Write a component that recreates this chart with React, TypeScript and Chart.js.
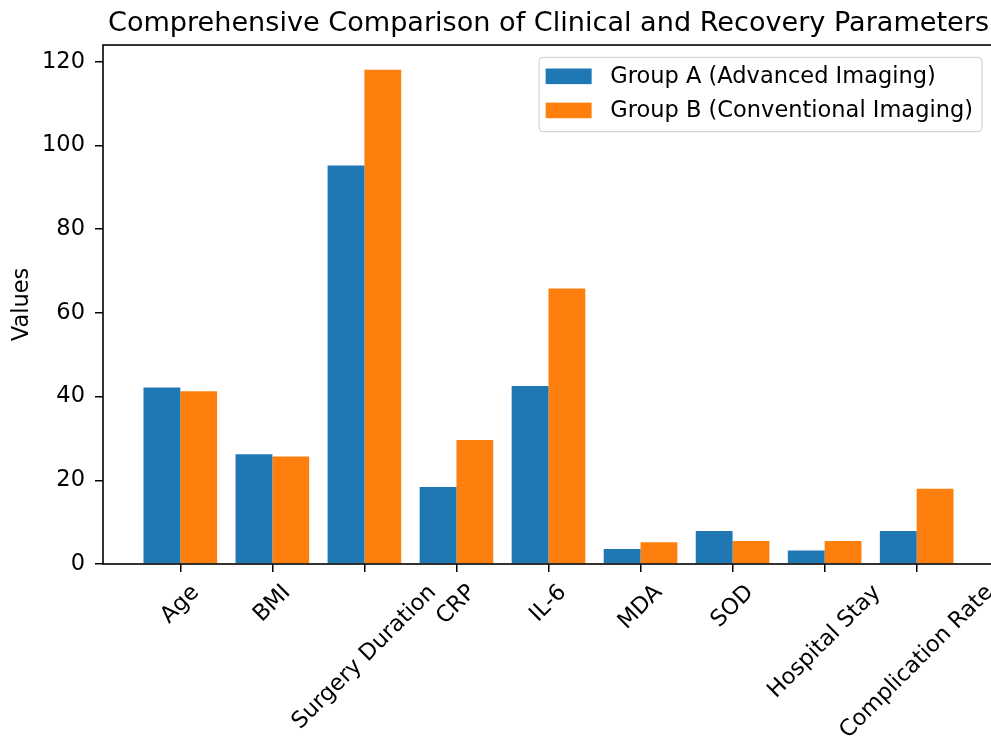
import React, { useEffect, useRef } from "react";
import { Chart, registerables } from "chart.js";

Chart.register(...registerables);

const categories = [
  "Age",
  "BMI",
  "Surgery Duration",
  "CRP",
  "IL-6",
  "MDA",
  "SOD",
  "Hospital Stay",
  "Complication Rate",
];
const groupA = [42.2, 26.2, 95.2, 18.4, 42.5, 3.6, 7.9, 3.2, 7.9];
const groupB = [41.3, 25.7, 118.1, 29.6, 65.8, 5.2, 5.5, 5.5, 18.0];
const seriesLabels = ["Group A (Advanced Imaging)", "Group B (Conventional Imaging)"];
const seriesColors = ["#1f77b4", "#ff7f0e"];
const yTicks = [0, 20, 40, 60, 80, 100, 120];
const titleText = "Comprehensive Comparison of Clinical and Recovery Parameters";
const yLabel = "Values";

const FONT = '"DejaVu Sans", sans-serif';
const TICK_PX = 22.5;

const framePlugin = {
  id: "frame",
  afterDatasetsDraw(chart: any) {
    const { ctx, chartArea: a } = chart;
    ctx.save();
    ctx.strokeStyle = "#000";
    ctx.lineWidth = 1.6;
    ctx.strokeRect(a.left, a.top, a.right - a.left, a.bottom - a.top);
    ctx.restore();
  },
};

const xLabelPlugin = {
  id: "xlabels",
  afterDraw(chart: any) {
    const { ctx, chartArea: a } = chart;
    const xs = chart.scales.x;
    ctx.save();
    ctx.font = `${TICK_PX}px ${FONT}`;
    ctx.fillStyle = "#000";
    const h = TICK_PX * 1.17;
    const top = a.bottom + 15.8;
    categories.forEach((c, i) => {
      const w = ctx.measureText(c).width;
      const half = (w + h) / Math.SQRT2 / 2;
      const cx = xs.getPixelForValue(i);
      const cy = top + half;
      ctx.save();
      ctx.translate(cx, cy);
      ctx.rotate(-Math.PI / 4);
      ctx.textAlign = "center";
      ctx.textBaseline = "middle";
      ctx.fillText(c, 0, 0);
      ctx.restore();
    });
    ctx.restore();
  },
};

const legendPlugin = {
  id: "boxlegend",
  afterDraw(chart: any) {
    const { ctx, chartArea: a } = chart;
    ctx.save();
    ctx.font = `${TICK_PX}px ${FONT}`;
    const ds = chart.data.datasets;
    let maxW = 0;
    ds.forEach((d: any) => {
      maxW = Math.max(maxW, ctx.measureText(d.label).width);
    });
    const right = a.right - 12;
    const top = a.top + 12.3;
    const width = 71.3 + maxW + 9;
    const height = 74.4;
    const left = right - width;
    ctx.beginPath();
    (ctx as any).roundRect(left, top, width, height, 4);
    ctx.fillStyle = "rgba(255,255,255,0.8)";
    ctx.fill();
    ctx.strokeStyle = "#cccccc";
    ctx.lineWidth = 1;
    ctx.stroke();
    ds.forEach((d: any, i: number) => {
      const cy = top + 19 + i * 34.1;
      ctx.fillStyle = d.backgroundColor;
      ctx.fillRect(left + 6.6, cy - 7.8, 46, 15.6);
      ctx.fillStyle = "#000";
      ctx.textAlign = "left";
      ctx.textBaseline = "middle";
      ctx.fillText(d.label, left + 71.3, cy + 1);
    });
    ctx.restore();
  },
};

export default function App() {
  const ref = useRef<HTMLCanvasElement | null>(null);

  useEffect(() => {
    if (!ref.current) return;
    const seriesValues = [groupA, groupB];
    const chart = new Chart(ref.current, {
      type: "bar",
      data: {
        datasets: seriesValues.map((vals, s) => ({
          label: seriesLabels[s],
          data: vals.map((v, i) => ({ x: i, y: v })),
          backgroundColor: seriesColors[s],
          borderWidth: 0,
          categoryPercentage: 0.8,
          barPercentage: 1.0,
        })),
      },
      options: {
        responsive: false,
        animation: false,
        devicePixelRatio: 1,
        layout: { padding: { left: 0, right: 6, top: 0, bottom: 0 } },
        plugins: {
          legend: { display: false },
          tooltip: { enabled: false },
          title: {
            display: true,
            text: titleText,
            fullSize: false,
            color: "#000",
            font: { family: FONT, size: 27.1, weight: "normal", lineHeight: 1.2 },
            padding: { top: 7.5, bottom: 5 },
          },
        },
        scales: {
          x: {
            type: "linear",
            min: -0.84,
            max: 8.84,
            offset: false,
            afterBuildTicks: (axis: any) => {
              axis.ticks = categories.map((_, i) => ({ value: i }));
            },
            afterFit: (scale: any) => {
              scale.height = 174;
            },
            grid: {
              display: true,
              offset: false,
              drawOnChartArea: false,
              drawTicks: true,
              tickLength: 8,
              color: "#000",
              lineWidth: 1.5,
            },
            border: { display: false },
            ticks: { display: false },
          },
          y: {
            type: "linear",
            min: 0,
            max: 124,
            afterBuildTicks: (axis: any) => {
              axis.ticks = yTicks.map((v) => ({ value: v }));
            },
            afterFit: (scale: any) => {
              scale.width = 103;
            },
            grid: {
              display: true,
              offset: false,
              drawOnChartArea: false,
              drawTicks: true,
              tickLength: 8,
              color: "#000",
              lineWidth: 1.5,
            },
            border: { display: false },
            ticks: {
              color: "#000",
              padding: 10,
              font: { family: FONT, size: TICK_PX },
            },
            title: {
              display: true,
              text: yLabel,
              color: "#000",
              font: { family: FONT, size: TICK_PX, lineHeight: 1.2 },
              padding: { top: 8.6, bottom: 0 },
            },
          },
        },
      },
      plugins: [framePlugin, xLabelPlugin, legendPlugin],
    } as any);
    return () => chart.destroy();
  }, []);

  return (
    <div
      style={{
        position: "absolute",
        left: 0,
        top: 0,
        width: 991,
        height: 738,
        overflow: "hidden",
        background: "#fff",
      }}
    >
      <canvas ref={ref} width={1000} height={738} style={{ width: 1000, height: 738, display: "block" }} />
    </div>
  );
}
